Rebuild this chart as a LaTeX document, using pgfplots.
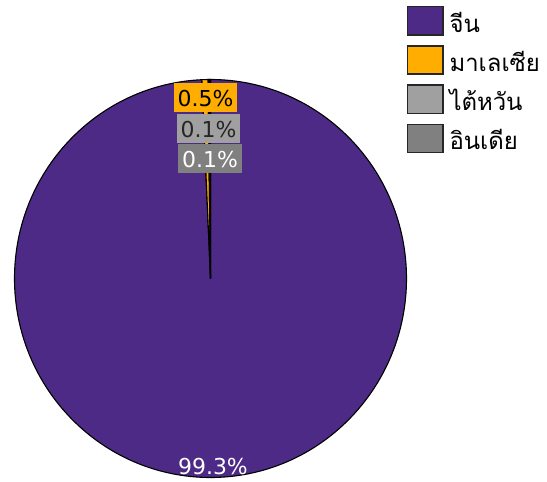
\documentclass[border=0pt]{standalone}
\usepackage{pgfplots}
\usepackage{pgfplotstable}
\pgfplotsset{compat=1.18}
\usepackage{fontspec}
\setmainfont{DejaVu Sans}
\newfontfamily\thaifont[Script=Thai]{Loma}
\definecolor{cnpurple}{HTML}{4C2A85}
\definecolor{myorange}{HTML}{FFAD00}
\definecolor{twgray}{HTML}{A0A0A0}
\definecolor{ingray}{HTML}{808080}

% share of each country, percent
\pgfplotstableread{
country value
China 99.3
Malaysia 0.5
Taiwan 0.1
India 0.1
}\piedata

\begin{document}
\begin{tikzpicture}
\pgfplotstablegetelem{0}{value}\of\piedata \let\vA\pgfplotsretval
\pgfplotstablegetelem{1}{value}\of\piedata \let\vB\pgfplotsretval
\pgfplotstablegetelem{2}{value}\of\piedata \let\vC\pgfplotsretval
\pgfplotstablegetelem{3}{value}\of\piedata \let\vD\pgfplotsretval
% slices go clockwise from 12 o'clock
\pgfmathsetmacro\aA{90-3.6*\vA}
\pgfmathsetmacro\aB{\aA-3.6*\vB}
\pgfmathsetmacro\aC{\aB-3.6*\vC}
\pgfmathsetmacro\aD{\aC-3.6*\vD}
\begin{axis}[
  x=1bp, y=1bp,
  xmin=0, xmax=547, ymin=0, ymax=482,
  hide axis, clip=false,
  legend cell align=left,
  legend image code/.code={\draw[#1,draw=black!85,line width=1.3bp] (0bp,-8bp) rectangle (35bp,20bp);},
  legend style={at={(axis cs:407,476)}, anchor=north west, draw=none, fill=none,
    inner sep=0pt, row sep=3bp,
    font=\thaifont\fontsize{24}{28}\selectfont,
    nodes={inner sep=0pt, text height=21bp, text depth=10bp},
    /tikz/every odd column/.append style={column sep=6bp}},
]
\newcommand{\slice}[3]{%
  \filldraw[fill=#3, draw=black, line width=1.1bp]
    (axis cs:210.5,203.5) -- ++(#1:196bp and 199bp)
    arc[start angle=#1, end angle=#2, x radius=196bp, y radius=199bp] -- cycle;}
\slice{90}{\aA}{cnpurple}
\slice{\aA}{\aB}{myorange}
\slice{\aB}{\aC}{twgray}
\slice{\aC}{\aD}{ingray}

\addlegendimage{fill=cnpurple}
\addlegendentry{จีน}
\addlegendimage{fill=myorange}
\addlegendentry{มาเลเซีย}
\addlegendimage{fill=twgray}
\addlegendentry{ไต้หวัน}
\addlegendimage{fill=ingray}
\addlegendentry{อินเดีย}

\tikzset{lbl/.style={font=\fontsize{22}{26}\selectfont, inner xsep=4bp, minimum height=29bp, text height=16bp, text depth=0bp}}
\node[lbl, fill=myorange, text=black] at (axis cs:205.5,384) {\vB\%};
\node[lbl, fill=twgray, text=black!85] at (axis cs:208.5,353) {\vC\%};
\node[lbl, fill=ingray, text=white] at (axis cs:210,323) {\vD\%};
\node[lbl, text=white] at (axis cs:213,16) {\vA\%};
\end{axis}
\pgfresetboundingbox
\path[use as bounding box] (0,0) rectangle (547bp,482bp);
\end{tikzpicture}
\end{document}
